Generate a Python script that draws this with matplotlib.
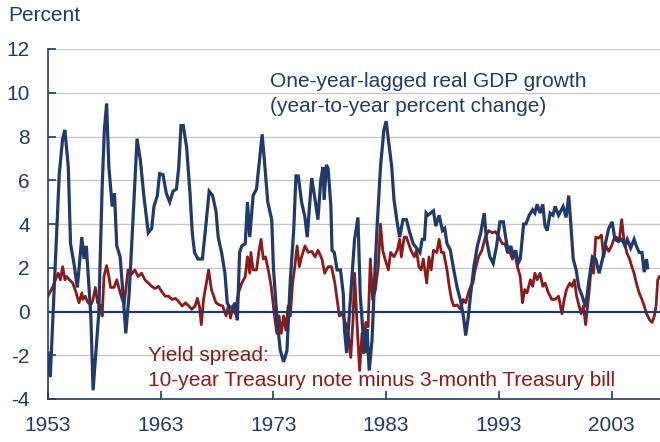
import matplotlib
matplotlib.use("Agg")
import matplotlib.pyplot as plt

gdp_years = [1953.0, 1953.2, 1954.0, 1954.3, 1954.5, 1954.8, 1955.0, 1955.3, 1955.6, 1956.0,
             1956.2, 1956.4, 1956.6, 1956.8, 1957.0, 1957.2, 1957.5, 1957.8, 1958.0, 1958.2,
             1958.4, 1958.7, 1958.9, 1959.1, 1959.4, 1959.7, 1959.9, 1960.2, 1960.6, 1960.9,
             1961.2, 1961.5, 1961.9, 1962.2, 1962.4, 1962.7, 1962.9, 1963.2, 1963.5, 1963.8,
             1964.1, 1964.4, 1964.6, 1964.8, 1965.0, 1965.3, 1965.6, 1965.8, 1966.0, 1966.3,
             1966.7, 1967.0, 1967.3, 1967.6, 1967.9, 1968.1, 1968.4, 1968.7, 1968.9, 1969.1,
             1969.4, 1969.6, 1969.8, 1970.0, 1970.2, 1970.5, 1970.7, 1970.9, 1971.2, 1971.5,
             1971.8, 1972.0, 1972.2, 1972.5, 1972.85, 1973.0, 1973.3, 1973.6, 1973.9, 1974.2,
             1974.5, 1974.8, 1975.0, 1975.2, 1975.5, 1975.8, 1976.0, 1976.2, 1976.4, 1976.7,
             1976.95, 1977.2, 1977.4, 1977.5, 1977.7, 1977.85, 1978.1, 1978.2, 1978.4, 1978.65,
             1978.95, 1979.2, 1979.3, 1979.5, 1979.9, 1980.2, 1980.5, 1980.7, 1980.95, 1981.2,
             1981.3, 1981.5, 1981.75, 1982.0, 1982.2, 1982.5, 1982.8, 1983.0, 1983.2, 1983.5,
             1983.7, 1984.0, 1984.2, 1984.5, 1984.8, 1985.1, 1985.4, 1985.7, 1986.0, 1986.2,
             1986.4, 1986.55, 1986.7, 1986.95, 1987.2, 1987.4, 1987.7, 1988.0, 1988.2, 1988.4,
             1988.7, 1989.0, 1989.3, 1989.6, 1989.85, 1990.06, 1990.3, 1990.5, 1990.8, 1991.1,
             1991.4, 1991.7, 1991.9, 1992.2, 1992.5, 1992.8, 1993.1, 1993.4, 1993.6, 1993.85,
             1994.06, 1994.3, 1994.5, 1994.7, 1994.9, 1995.2, 1995.4, 1995.7, 1996.0, 1996.2,
             1996.4, 1996.66, 1996.9, 1997.1, 1997.3, 1997.55, 1997.8, 1998.0, 1998.3, 1998.5,
             1998.7, 1998.97, 1999.2, 1999.4, 1999.6, 1999.86, 2000.1, 2000.4, 2000.7, 2001.0,
             2001.3, 2001.6, 2001.9, 2002.2, 2002.45, 2002.75, 2003.05, 2003.3, 2003.6, 2003.9,
             2004.2, 2004.4, 2004.7, 2005.0, 2005.2, 2005.45, 2005.7, 2005.9, 2006.1, 2006.2]
gdp_values = [-1.9, -3.0, 6.3, 7.9, 8.3, 6.6, 3.1, 2.2, 1.1, 3.4,
              2.4, 3.0, 1.4, -0.2, -3.6, -2.2, -0.1, 5.6, 8.3, 9.5,
              6.6, 4.8, 5.4, 3.0, 2.5, 0.5, -1.0, 0.8, 4.8, 7.9,
              6.9, 5.3, 3.6, 3.8, 4.8, 5.3, 6.3, 6.25, 5.4, 5.0,
              5.5, 5.6, 6.6, 8.5, 8.5, 7.5, 5.4, 3.6, 2.7, 2.4,
              2.4, 3.9, 5.5, 5.3, 4.6, 3.4, 2.7, 1.75, 0.4, 0.2,
              0.2, 0.4, -0.4, 2.7, 3.0, 3.1, 5.0, 3.4, 5.3, 5.6,
              7.1, 8.1, 6.9, 5.0, 4.2, 2.0, -0.2, -1.75, -2.3, -1.8,
              1.45, 3.7, 6.2, 6.2, 5.0, 4.3, 3.4, 4.8, 6.1, 5.1,
              4.2, 6.0, 6.6, 5.1, 6.7, 6.55, 4.8, 2.8, 2.7, 1.9,
              1.9, 0.8, -0.8, -1.9, 1.1, 3.3, 4.3, 0.8, -1.0, -1.9,
              -0.8, -2.7, -1.3, 1.75, 3.9, 6.6, 8.3, 8.7, 7.85, 6.6,
              5.1, 4.0, 3.4, 4.2, 4.2, 3.6, 3.1, 2.9, 2.7, 3.3,
              3.3, 4.5, 4.4, 4.5, 4.6, 3.9, 4.4, 3.7, 3.8, 3.1,
              2.8, 1.9, 1.1, 0.5, -0.2, -1.1, -0.2, 0.8, 2.1, 3.0,
              3.6, 4.5, 3.3, 2.5, 2.2, 3.0, 4.1, 4.1, 3.4, 2.7,
              3.0, 2.5, 2.8, 2.2, 2.4, 4.0, 4.0, 4.4, 4.65, 4.5,
              4.9, 4.5, 4.9, 3.9, 3.7, 4.5, 4.4, 4.8, 4.4, 4.6,
              4.8, 4.3, 5.3, 3.9, 2.4, 1.9, 1.1, 0.7, 0.2, 1.45,
              2.5, 2.4, 1.75, 2.4, 3.1, 3.8, 4.1, 3.3, 3.2, 3.3,
              3.0, 3.3, 2.9, 3.3, 3.0, 2.7, 2.7, 1.8, 2.4, 2.0]

spread_years = [1953.0, 1953.4, 1953.7, 1953.9, 1954.1, 1954.3, 1954.5, 1954.65, 1954.9, 1955.2,
                1955.5, 1955.75, 1956.0, 1956.1, 1956.3, 1956.55, 1956.8, 1957.0, 1957.2, 1957.4,
                1957.7, 1957.8, 1957.97, 1958.2, 1958.4, 1958.55, 1958.86, 1959.1, 1959.3, 1959.5,
                1959.75, 1959.9, 1960.1, 1960.4, 1960.7, 1961.0, 1961.3, 1961.6, 1961.9, 1962.2,
                1962.5, 1962.8, 1963.1, 1963.4, 1963.7, 1964.0, 1964.3, 1964.6, 1964.9, 1965.2,
                1965.5, 1965.75, 1966.05, 1966.25, 1966.45, 1966.6, 1966.8, 1967.0, 1967.25, 1967.5,
                1967.7, 1967.9, 1968.2, 1968.5, 1968.8, 1969.0, 1969.2, 1969.4, 1969.6, 1969.9,
                1970.2, 1970.5, 1970.7, 1970.9, 1971.0, 1971.2, 1971.5, 1971.7, 1971.9, 1972.1,
                1972.3, 1972.6, 1972.8, 1973.1, 1973.3, 1973.5, 1973.7, 1973.9, 1974.1, 1974.3,
                1974.5, 1974.7, 1974.9, 1975.1, 1975.3, 1975.5, 1975.8, 1976.1, 1976.4, 1976.7,
                1976.96, 1977.3, 1977.55, 1977.85, 1978.15, 1978.45, 1978.65, 1978.85, 1979.1, 1979.3,
                1979.6, 1979.86, 1980.06, 1980.2, 1980.45, 1980.65, 1980.86, 1981.0, 1981.2, 1981.4,
                1981.6, 1981.8, 1982.05, 1982.3, 1982.5, 1982.7, 1982.9, 1983.2, 1983.4, 1983.7,
                1984.0, 1984.2, 1984.35, 1984.6, 1984.8, 1985.0, 1985.2, 1985.5, 1985.7, 1985.9,
                1986.1, 1986.3, 1986.6, 1986.8, 1987.0, 1987.2, 1987.5, 1987.7, 1987.9, 1988.1,
                1988.4, 1988.6, 1988.8, 1989.0, 1989.3, 1989.6, 1989.85, 1990.06, 1990.3, 1990.5,
                1990.7, 1990.9, 1991.2, 1991.5, 1991.8, 1992.1, 1992.4, 1992.7, 1993.0, 1993.3,
                1993.55, 1993.76, 1994.0, 1994.2, 1994.4, 1994.65, 1994.9, 1995.1, 1995.3, 1995.5,
                1995.8, 1996.0, 1996.2, 1996.4, 1996.66, 1996.9, 1997.1, 1997.4, 1997.7, 1998.0,
                1998.3, 1998.6, 1998.8, 1999.0, 1999.3, 1999.5, 1999.7, 1999.9, 2000.1, 2000.3,
                2000.5, 2000.7, 2001.0, 2001.2, 2001.4, 2001.6, 2001.85, 2002.1, 2002.3, 2002.5,
                2002.75, 2003.0, 2003.2, 2003.4, 2003.7, 2003.9, 2004.1, 2004.35, 2004.6, 2004.8,
                2005.0, 2005.2, 2005.45, 2005.7, 2005.9, 2006.1, 2006.4, 2006.6, 2006.8, 2006.95,
                2007.1, 2007.25]
spread_values = [0.7, 1.1, 1.5, 1.75, 1.45, 2.05, 1.45, 1.6, 1.45, 1.3,
                 0.85, 0.4, 0.85, 0.55, 0.7, 0.4, 0.3, 0.55, 1.1, 0.4,
                 0.25, -0.2, 1.6, 2.1, 1.6, 1.1, 1.1, 1.45, 1.05, 0.7,
                 0.3, 1.0, 1.9, 1.7, 1.9, 1.6, 1.75, 1.45, 1.3, 1.15,
                 1.05, 1.15, 0.9, 0.7, 0.7, 0.55, 0.6, 0.45, 0.25, 0.4,
                 0.25, 0.1, 0.25, 0.6, 0.2, -0.6, 0.55, 1.15, 1.9, 1.0,
                 0.7, 0.4, 0.3, 0.25, -0.2, 0.25, -0.3, 0.25, -0.1, 0.85,
                 1.3, 1.6, 2.5, 1.75, 2.7, 1.9, 1.9, 2.7, 3.3, 2.4,
                 2.5, 1.75, 1.15, -0.2, -1.0, -0.2, -1.0, -0.2, -0.85, 0.25,
                 -0.2, 1.3, 2.05, 3.0, 2.05, 2.5, 3.0, 2.7, 2.75, 2.5,
                 2.8, 2.4, 1.75, 2.05, 2.05, 1.3, 0.55, -0.2, -0.1, -0.4,
                 -0.85, -2.1, -0.4, 1.75, -0.85, -2.7, -1.0, -1.9, -0.5, -0.7,
                 2.4, 0.55, 1.0, 2.05, 4.0, 2.8, 2.4, 1.9, 2.7, 2.5,
                 2.8, 3.3, 2.5, 3.4, 3.4, 3.1, 2.8, 2.5, 2.8, 2.05,
                 1.9, 2.4, 1.3, 2.5, 1.9, 2.8, 2.7, 3.3, 2.7, 2.7,
                 1.9, 1.15, 0.55, 0.25, 0.3, 0.1, 0.55, 0.4, 0.85, 1.15,
                 1.3, 1.9, 2.5, 2.8, 3.4, 3.7, 3.6, 3.65, 3.4, 3.1,
                 3.1, 2.7, 2.7, 2.4, 2.7, 2.05, 1.6, 0.4, 1.0, 0.85,
                 1.45, 1.15, 1.75, 1.45, 1.75, 1.15, 1.3, 0.85, 0.55, 0.55,
                 0.7, -0.1, 0.55, 1.0, 1.3, 1.15, 1.45, 0.7, 0.3, -0.1,
                 0.25, -0.6, 0.85, 2.05, 1.75, 3.4, 3.35, 3.5, 2.5, 3.0,
                 2.75, 3.0, 3.3, 3.4, 3.3, 4.2, 3.3, 2.7, 2.4, 2.05,
                 1.75, 1.3, 0.85, 0.55, 0.25, -0.1, -0.4, -0.5, -0.2, 0.25,
                 1.45, 1.6]

x_ticks = [1953, 1963, 1973, 1983, 1993, 2003]
y_ticks = [-4, -2, 0, 2, 4, 6, 8, 10, 12]

NAVY = "#1F3A6B"
RED = "#8B1A1A"
GRID = "#C8C8C8"
FONT = "Liberation Sans"
FS = 15

fig = plt.figure(figsize=(6.6, 4.42), dpi=100)
ax = fig.add_axes([48/660, 1 - 399/442, 1 - 48/660, 350/442])

ax.set_xlim(1953, 2007.3)
ax.set_ylim(-4, 12)

for yv in y_ticks[1:]:
    if yv != 0:
        ax.axhline(yv, color=GRID, lw=1.0, zorder=0)

ax.plot(gdp_years, gdp_values, color=NAVY, lw=2.3, zorder=3, solid_joinstyle="miter")
ax.plot(spread_years, spread_values, color=RED, lw=2.0, zorder=2)
ax.axhline(0, color=NAVY, lw=1.6, zorder=4)

for s in ["top", "right"]:
    ax.spines[s].set_visible(False)
for s in ["left", "bottom"]:
    ax.spines[s].set_color(NAVY)
    ax.spines[s].set_linewidth(1.2)

ax.set_xticks(x_ticks)
ax.set_yticks(y_ticks)
ax.set_xticklabels([str(t) for t in x_ticks])
ax.set_yticklabels([str(t) for t in y_ticks])
ax.tick_params(axis="x", direction="in", length=6, width=1.2, color=NAVY,
               labelcolor=NAVY, labelsize=FS, pad=12.5)
ax.tick_params(axis="y", direction="in", length=6, width=1.2, color=NAVY,
               labelcolor=NAVY, labelsize=FS, pad=13)
for lab in ax.get_xticklabels() + ax.get_yticklabels():
    lab.set_fontfamily(FONT)

fig.text(8/660, 1 - 21/442, "Percent", color=NAVY, fontsize=FS, family=FONT,
         ha="left", va="baseline")

fig.text(270/660, 1 - 87/442, "One-year-lagged real GDP growth", color=NAVY,
         fontsize=FS, family=FONT, ha="left", va="baseline", zorder=1)
fig.text(270/660, 1 - 112/442, "(year-to-year percent change)", color=NAVY,
         fontsize=FS, family=FONT, ha="left", va="baseline", zorder=1)

ax.text(1961.85, -2.25, "Yield spread:", color=RED, fontsize=FS, family=FONT,
        ha="left", va="baseline", zorder=1)
ax.text(1961.85, -3.39, "10-year Treasury note minus 3-month Treasury bill", color=RED,
        fontsize=FS, family=FONT, ha="left", va="baseline", zorder=1)

fig.savefig("out.png", dpi=100)
